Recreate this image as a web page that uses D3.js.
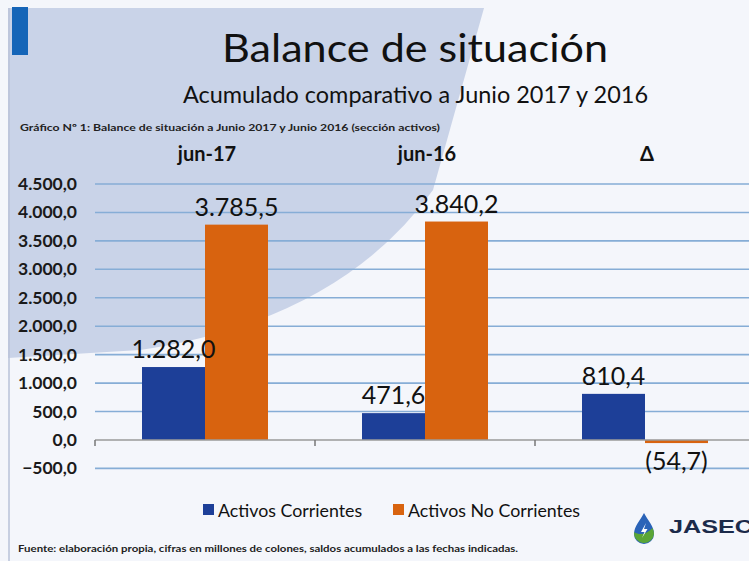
<!DOCTYPE html>
<html>
<head>
<meta charset="utf-8">
<script src="https://cdn.jsdelivr.net/npm/d3@7"></script>
<style>
  body { margin: 0; background: #fff; }
  svg { display: block; font-family: Lato, "Open Sans", sans-serif; }
</style>
</head>
<body>
<svg id="chart" width="749" height="561"></svg>
<script>
// data
const categories = ['jun-17', 'jun-16', 'Δ'];
const seriesNames = ['Activos Corrientes', 'Activos No Corrientes'];
const corrientes = [1282.0, 471.6, 810.4];
const noCorrientes = [3785.5, 3840.2, -54.7];
const yTicks = [-500, 0, 500, 1000, 1500, 2000, 2500, 3000, 3500, 4000, 4500];
const colors = ['#1d3f98', '#d8630f'];

const svg = d3.select('#chart');

// background decoration
svg.append('rect').attr('width', 749).attr('height', 561).attr('fill', '#f4f6fb');
svg.append('path')
  .attr('d', 'M8,8 L484,8 L433,190 Q340,320 140,350 L8,358 Z')
  .attr('fill', '#c9d3e8');
svg.append('rect').attr('x', 12).attr('y', 7).attr('width', 16).attr('height', 48).attr('fill', '#1565b8');
svg.append('line').attr('x1', 9).attr('x2', 9).attr('y1', 8).attr('y2', 561)
  .attr('stroke', '#b9c2d8').attr('stroke-width', 1.5);

// titles (stretched to the widths seen in the picture)
svg.append('text').attr('x', 415).attr('y', 62).attr('text-anchor', 'middle')
  .attr('font-size', 38).attr('fill', '#111')
  .attr('textLength', 386).attr('lengthAdjust', 'spacingAndGlyphs')
  .text('Balance de situación');
svg.append('text').attr('x', 415.5).attr('y', 103).attr('text-anchor', 'middle')
  .attr('font-size', 22.5).attr('fill', '#111')
  .attr('textLength', 465).attr('lengthAdjust', 'spacingAndGlyphs')
  .text('Acumulado comparativo a Junio 2017 y 2016');
svg.append('text').attr('x', 20).attr('y', 131)
  .attr('font-size', 9.5).attr('font-weight', 'bold').attr('fill', '#222')
  .attr('textLength', 420).attr('lengthAdjust', 'spacingAndGlyphs')
  .text('Gráfico Nº 1: Balance de situación a  Junio  2017 y  Junio 2016 (sección activos)');

// scales
const x = d3.scaleBand().domain(categories).range([95, 755]);
const xs = d3.scaleBand().domain(seriesNames).range([47, 173]);
const y = d3.scaleLinear().domain([-500, 4500]).range([468.4, 184]);

// gridlines
svg.append('g').selectAll('line').data(yTicks.filter(d => d !== 0)).join('line')
  .attr('x1', 95).attr('x2', 749)
  .attr('y1', d => y(d)).attr('y2', d => y(d))
  .attr('stroke', '#86add6').attr('stroke-width', 1.6);

// y axis labels
const fmt = v => d3.format(',.1f')(v).replace(/,/g, 'X').replace('.', ',').replace(/X/g, '.');
svg.append('g').selectAll('text').data(yTicks).join('text')
  .attr('x', 77).attr('y', d => y(d) + 6).attr('text-anchor', 'end')
  .attr('font-size', 17.5).attr('font-weight', 'bold').attr('fill', '#1a1a1a')
  .text(d => fmt(d));

// category labels on top
svg.append('g').selectAll('text').data(categories).join('text')
  .attr('x', d => x(d) + x.bandwidth() / 2 + 2).attr('y', 161).attr('text-anchor', 'middle')
  .attr('font-size', 20).attr('font-weight', 'bold').attr('fill', '#111')
  .text(d => d);

// bars
const rows = categories.map((c, i) => ({ cat: c, vals: [corrientes[i], noCorrientes[i]] }));
const groups = svg.append('g').selectAll('g').data(rows).join('g')
  .attr('transform', d => `translate(${x(d.cat)},0)`);
groups.selectAll('rect').data(d => d.vals.map((v, j) => ({ v, s: seriesNames[j], j }))).join('rect')
  .attr('x', d => xs(d.s)).attr('width', xs.bandwidth())
  .attr('y', d => y(Math.max(0, d.v))).attr('height', d => Math.abs(y(d.v) - y(0)))
  .attr('fill', d => colors[d.j]);

// value labels
const valFmt = v => v < 0 ? '(' + fmt(-v) + ')' : fmt(v);
groups.selectAll('text').data(d => d.vals.map((v, j) => ({ v, s: seriesNames[j] }))).join('text')
  .attr('x', d => xs(d.s) + xs.bandwidth() / 2)
  .attr('y', d => d.v < 0 ? y(d.v) + 27 : y(d.v) - 9)
  .attr('text-anchor', 'middle').attr('font-size', 25).attr('fill', '#111')
  .text(d => valFmt(d.v));

// zero axis
svg.append('line').attr('x1', 95).attr('x2', 749).attr('y1', y(0)).attr('y2', y(0))
  .attr('stroke', '#9a9a9a').attr('stroke-width', 1.5);
svg.append('g').selectAll('line').data(categories).join('line')
  .attr('x1', d => x(d)).attr('x2', d => x(d))
  .attr('y1', y(0)).attr('y2', y(0) + 6)
  .attr('stroke', '#777').attr('stroke-width', 1.5);

// legend
const legend = svg.append('g').attr('transform', 'translate(203,511)');
const legX = [0, 190];
seriesNames.forEach((s, i) => {
  legend.append('rect').attr('x', legX[i]).attr('y', -7).attr('width', 11).attr('height', 11).attr('fill', colors[i]);
  legend.append('text').attr('x', legX[i] + 15).attr('y', 6).attr('font-size', 17.8).attr('fill', '#111').text(s);
});

// logo
const logo = svg.append('g').attr('transform', 'translate(644,531)');
logo.append('path').attr('d', 'M0,-18 C-4,-10 -10,-5 -10,3 A10,10 0 0 0 10,3 C10,-5 4,-10 0,-18 Z').attr('fill', '#2a63b8');
logo.append('path').attr('d', 'M-10,1 A10,10 0 0 0 10,3 C10,1 9.5,-1 8.5,-3 C3,3 -4,5 -10,1 Z').attr('fill', '#5aa536');
logo.append('path').attr('d', 'M2,-8 L-3,1 L0.5,1 L-2,7 L3.5,-2 L0,-2 Z').attr('fill', '#fff');
logo.append('text').attr('x', 25).attr('y', 2).attr('font-family', 'Liberation Sans, Arial, sans-serif')
  .attr('font-size', 19).attr('font-weight', 'bold').attr('fill', '#1b2a4a')
  .attr('textLength', 84).attr('lengthAdjust', 'spacingAndGlyphs').text('JASEC');

// source
svg.append('text').attr('x', 18).attr('y', 552)
  .attr('font-size', 10).attr('font-weight', 'bold').attr('fill', '#222')
  .attr('textLength', 500).attr('lengthAdjust', 'spacingAndGlyphs')
  .text('Fuente: elaboración propia, cifras en millones de colones, saldos acumulados a las fechas indicadas.');
</script>
</body>
</html>
